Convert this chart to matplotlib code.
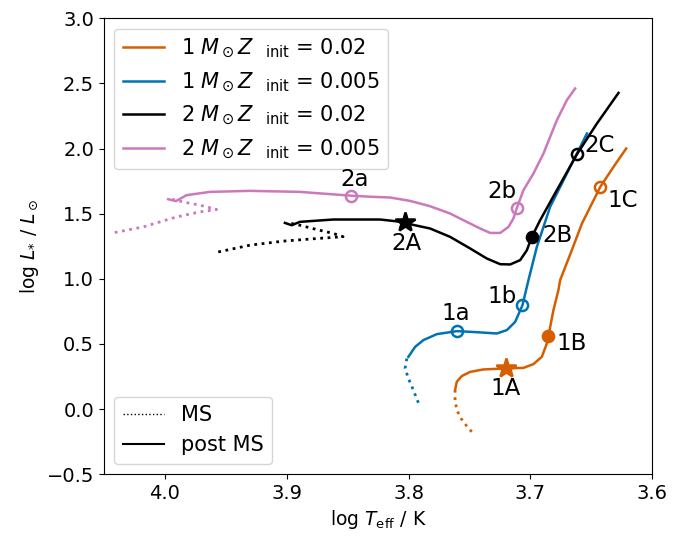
import numpy as np
import matplotlib.pyplot as plt
from matplotlib.lines import Line2D

# colours for the four tracks
c_1_02 = '#D55E00'
c_1_005 = '#0173B2'
c_2_02 = 'black'
c_2_005 = '#CC78BC'

# 1 Msun, Z=0.02
ms_1_02_T = [3.7481, 3.7522, 3.7569, 3.7604, 3.7618, 3.7618]
ms_1_02_L = [-0.175, -0.131, -0.072, -0.008, 0.068, 0.145]
post_1_02_T = [3.7618, 3.7604, 3.7563, 3.7495, 3.7385, 3.7199, 3.7057, 3.6975, 3.6906, 3.6865,
               3.6852, 3.6811, 3.6770, 3.6756, 3.6660, 3.6577, 3.6427, 3.6318, 3.6214]
post_1_02_L = [0.145, 0.209, 0.253, 0.285, 0.304, 0.312, 0.316, 0.345, 0.401, 0.503,
               0.560, 0.759, 0.913, 0.989, 1.220, 1.424, 1.705, 1.859, 2.000]

# 1 Msun, Z=0.005
ms_1_005_T = [3.7919, 3.7960, 3.8001, 3.8028, 3.8014]
ms_1_005_L = [0.048, 0.145, 0.235, 0.312, 0.388]
post_1_005_T = [3.8001, 3.7946, 3.7878, 3.7768, 3.7604, 3.7440, 3.7275, 3.7193, 3.7125, 3.7065,
                3.7016, 3.6947, 3.6838, 3.6728, 3.6618, 3.6536]
post_1_005_L = [0.401, 0.477, 0.529, 0.575, 0.598, 0.590, 0.580, 0.606, 0.669, 0.797,
                0.989, 1.245, 1.552, 1.757, 1.962, 2.115]

# 2 Msun, Z=0.02
ms_2_02_T = [3.9561, 3.9301, 3.9028, 3.8753, 3.8537, 3.8617, 3.8753, 3.8891, 3.8973]
ms_2_02_L = [1.206, 1.258, 1.289, 1.309, 1.323, 1.348, 1.378, 1.411, 1.427]
post_2_02_T = [3.9014, 3.8959, 3.8891, 3.8617, 3.8234, 3.8028, 3.7987, 3.7823, 3.7659, 3.7495,
               3.7358, 3.7248, 3.7166, 3.7084, 3.7029, 3.6988, 3.6920, 3.6783, 3.6618, 3.6454, 3.6277]
post_2_02_L = [1.429, 1.411, 1.437, 1.455, 1.455, 1.434, 1.419, 1.386, 1.322, 1.233,
               1.156, 1.112, 1.110, 1.143, 1.219, 1.322, 1.450, 1.680, 1.956, 2.192, 2.427]

# 2 Msun, Z=0.005
ms_2_005_T = [4.041, 4.0177, 3.9903, 3.9712, 3.9575, 3.9712, 3.9849, 3.9944]
ms_2_005_L = [1.355, 1.398, 1.475, 1.513, 1.532, 1.565, 1.590, 1.611]
post_2_005_T = [3.9972, 3.9909, 3.9821, 3.9630, 3.9301, 3.8891, 3.8472, 3.8316, 3.8152, 3.7987,
                3.7823, 3.7659, 3.7522, 3.7412, 3.7330, 3.7248, 3.7180, 3.7139, 3.7111, 3.7057,
                3.6975, 3.6893, 3.6783, 3.6701, 3.6633]
post_2_005_L = [1.611, 1.596, 1.642, 1.667, 1.675, 1.667, 1.638, 1.630, 1.624, 1.598,
                1.557, 1.501, 1.437, 1.386, 1.352, 1.352, 1.398, 1.463, 1.544, 1.680,
                1.808, 1.961, 2.217, 2.371, 2.461]

# labelled points
pt_names = ['1A', '1B', '1C', '1a', '1b', '2A', '2B', '2C', '2a', '2b']
pt_T = [3.720, 3.6852, 3.6427, 3.7604, 3.7065, 3.8028, 3.6988, 3.6618, 3.8472, 3.7111]
pt_L = [0.312, 0.560, 1.705, 0.598, 0.797, 1.434, 1.322, 1.956, 1.638, 1.544]
pt_marker = ['*', 'o', 'o', 'o', 'o', '*', 'o', 'o', 'o', 'o']
pt_filled = [True, True, False, False, False, True, True, False, False, False]
pt_color = [c_1_02, c_1_02, c_1_02, c_1_005, c_1_005, c_2_02, c_2_02, c_2_02, c_2_005, c_2_005]
pt_text_T = [3.720, 3.6665, 3.6246, 3.761, 3.723, 3.802, 3.678, 3.643, 3.844, 3.723]
pt_text_L = [0.16, 0.50, 1.60, 0.73, 0.867, 1.273, 1.335, 2.025, 1.764, 1.672]

fig = plt.figure(figsize=(6.83, 5.37), dpi=100)
ax = fig.add_axes([0.152, 0.117, 0.803, 0.849])

tracks = [
    (ms_1_02_T, ms_1_02_L, post_1_02_T, post_1_02_L, c_1_02, r'1 $M_\odot Z$  $_{\rm init}$ = 0.02'),
    (ms_1_005_T, ms_1_005_L, post_1_005_T, post_1_005_L, c_1_005, r'1 $M_\odot Z$  $_{\rm init}$ = 0.005'),
    (ms_2_02_T, ms_2_02_L, post_2_02_T, post_2_02_L, c_2_02, r'2 $M_\odot Z$  $_{\rm init}$ = 0.02'),
    (ms_2_005_T, ms_2_005_L, post_2_005_T, post_2_005_L, c_2_005, r'2 $M_\odot Z$  $_{\rm init}$ = 0.005'),
]

handles = []
for msT, msL, pT, pL, col, lab in tracks:
    ax.plot(msT, msL, ':', color=col, lw=2)
    h, = ax.plot(pT, pL, '-', color=col, lw=1.8, label=lab)
    handles.append(h)

for i in range(len(pt_names)):
    ms = 15 if pt_marker[i] == '*' else 8
    ax.plot(pt_T[i], pt_L[i], pt_marker[i], ms=ms, mew=1.8, color=pt_color[i],
            mfc=pt_color[i] if pt_filled[i] else 'none', zorder=5)
    ax.text(pt_text_T[i], pt_text_L[i], pt_names[i], fontsize=16.5,
            ha='center', va='center', zorder=6)

ax.set_xlim(4.05, 3.6)
ax.set_ylim(-0.5, 3.0)
ax.set_xticks([4.0, 3.9, 3.8, 3.7, 3.6])
ax.tick_params(labelsize=14)
ax.set_xlabel(r'log $T_{\rm eff}$ / K', fontsize=13.5)
ax.set_ylabel(r'log $L_{*}$ / $L_\odot$', fontsize=13.5)

leg1 = ax.legend(handles=handles, loc='upper left', fontsize=15)
ax.add_artist(leg1)
style_handles = [Line2D([], [], color='black', ls=':', lw=1),
                 Line2D([], [], color='black', ls='-', lw=1.5)]
ax.legend(handles=style_handles, labels=['MS', 'post MS'], loc='lower left', fontsize=15)

fig.savefig('out.png', dpi=100)
